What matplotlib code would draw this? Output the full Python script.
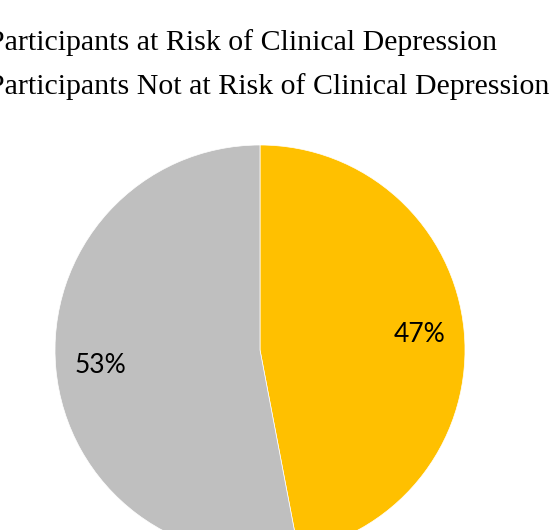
import matplotlib.pyplot as plt

labels = ['Participants at Risk of Clinical Depression',
          'Participants Not at Risk of Clinical Depression']
values = [47, 53]
colors = ['#FFC000', '#BFBFBF']

fig = plt.figure(figsize=(5.55, 5.30), dpi=100)
ax = fig.add_axes([0, 0, 1, 1])

# pie placed in pixel coordinates so it runs off the bottom like the original
wedges, texts, autotexts = ax.pie(values, colors=colors, startangle=90, counterclock=False,
                                  radius=205, center=(260, 180),
                                  autopct='%1.0f%%', pctdistance=0.78,
                                  wedgeprops=dict(edgecolor='white', linewidth=0.5),
                                  textprops=dict(family='Lato', fontsize=19, color='black'))
ax.set_xlim(0, 555)
ax.set_ylim(0, 530)
ax.set_aspect('equal')
ax.axis('off')

fig.legend(wedges, labels, loc='upper left', bbox_to_anchor=(-0.103, 0.945),
           frameon=False, borderaxespad=0, borderpad=0, handlelength=1,
           handletextpad=0.5, labelspacing=0.58,
           prop=dict(family='Liberation Serif', size=21.5))

plt.savefig('out.png', dpi=100)
